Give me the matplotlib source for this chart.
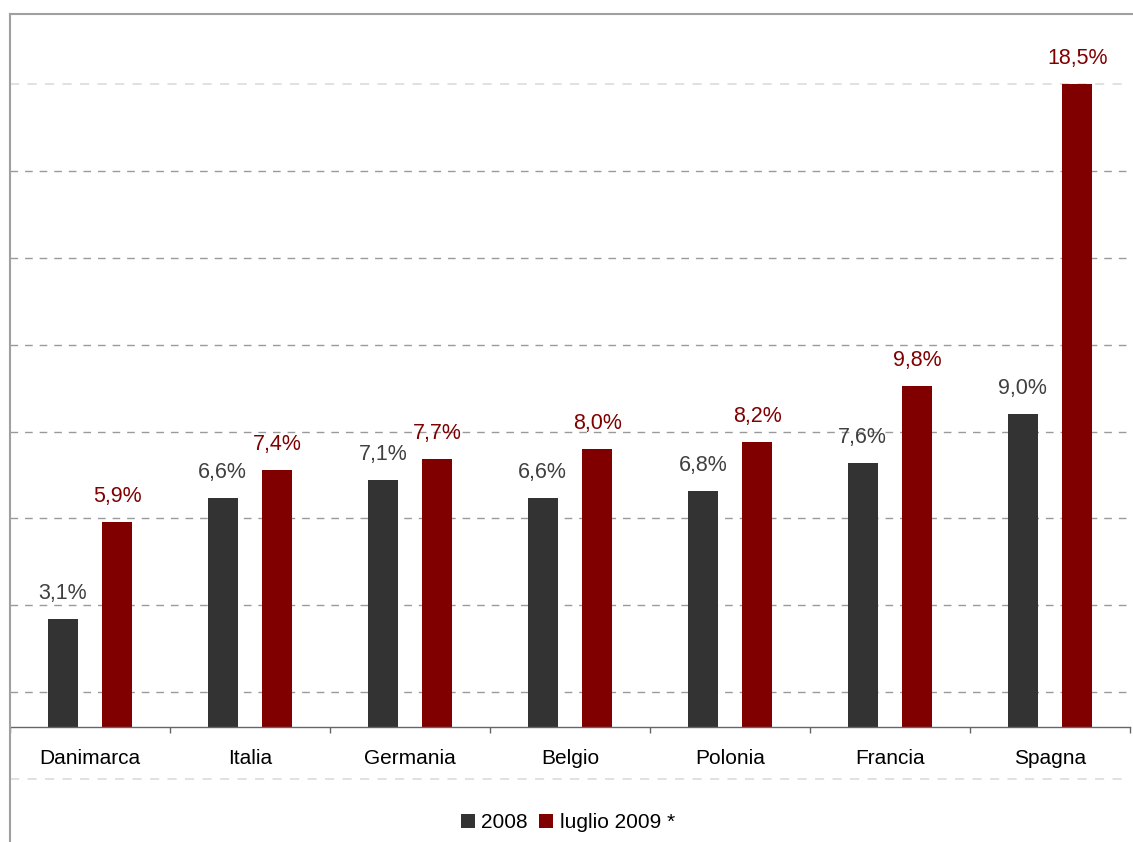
import matplotlib
matplotlib.use("Agg")
import matplotlib.pyplot as plt
from matplotlib.lines import Line2D
import numpy as np

plt.rcParams['font.family'] = ['Liberation Sans', 'DejaVu Sans']

countries = ['Danimarca', 'Italia', 'Germania', 'Belgio', 'Polonia', 'Francia', 'Spagna']
val_2008 = [3.1, 6.6, 7.1, 6.6, 6.8, 7.6, 9.0]
val_2009 = [5.9, 7.4, 7.7, 8.0, 8.2, 9.8, 18.5]
series_names = ['2008', 'luglio 2009 *']
grid_vals = [1, 3.5, 6, 8.5, 11, 13.5, 16]
light_grid_vals = [-1.5, 18.5]

dark = '#333333'
red = '#800000'

W, H = 1133, 842
fig = plt.figure(figsize=(W / 100, H / 100), dpi=100)

# plot area: x from px 10 to 1130, baseline at px 727, 34.76 px per %
ppu = (727 - 84) / 18.5
ax = fig.add_axes([10 / W, 0, 1120 / W, 1 - 14 / H])
ax.set_xlim(-0.5, 6.5)
ax.set_ylim(-(842 - 727) / ppu, (727 - 14) / ppu)

x = np.arange(len(countries))
bw = 0.19
off = 0.17

for g in grid_vals:
    ax.axhline(g, color='#9a9a9a', lw=1, linestyle=(0, (5.5, 5)), zorder=0)
for g in light_grid_vals:
    ax.axhline(g, color='#dcdcdc', lw=1.2, linestyle=(0, (5.5, 5)), zorder=0)

b1 = ax.bar(x - off, val_2008, bw, color=dark, zorder=2, label=series_names[0])
b2 = ax.bar(x + off, val_2009, bw, color=red, zorder=2, label=series_names[1])

for xi, v in zip(x, val_2008):
    ax.annotate(f'{v:.1f}%'.replace('.', ','), (xi - off, v), xytext=(0, 14.4),
                textcoords='offset points', ha='center', va='baseline',
                fontsize=15.5, color='#404040')
for xi, v in zip(x, val_2009):
    ax.annotate(f'{v:.1f}%'.replace('.', ','), (xi + off, v), xytext=(0, 14.4),
                textcoords='offset points', ha='center', va='baseline',
                fontsize=15.5, color=red)

for s in ['top', 'right', 'left']:
    ax.spines[s].set_visible(False)
ax.spines['bottom'].set_position(('data', 0))
ax.spines['bottom'].set_color('#666666')
ax.spines['bottom'].set_linewidth(1)
ax.set_yticks([])
ax.set_xticks(x)
ax.set_xticklabels(countries, fontsize=15)
ax.set_xticks(np.arange(-0.5, 7, 1), minor=True)
ax.tick_params(axis='x', which='major', length=0, pad=16)
ax.tick_params(axis='x', which='minor', length=4, width=1, color='#666666', direction='out')

# chart area border (cropped)
fig.add_artist(Line2D([10 / W, 10 / W], [0, 1 - 14 / H], transform=fig.transFigure,
                      color='#a0a0a0', lw=1.5))
fig.add_artist(Line2D([10 / W, 1], [1 - 14 / H, 1 - 14 / H], transform=fig.transFigure,
                      color='#a0a0a0', lw=1.5))

fig.legend(handles=[b1, b2], labels=series_names, loc='center',
           bbox_to_anchor=(568 / W, 1 - 823 / H), ncol=2, frameon=False,
           fontsize=15, handlelength=0.67, handleheight=0.67,
           handletextpad=0.3, columnspacing=0.55, borderpad=0)

fig.savefig('out.png', dpi=100)
